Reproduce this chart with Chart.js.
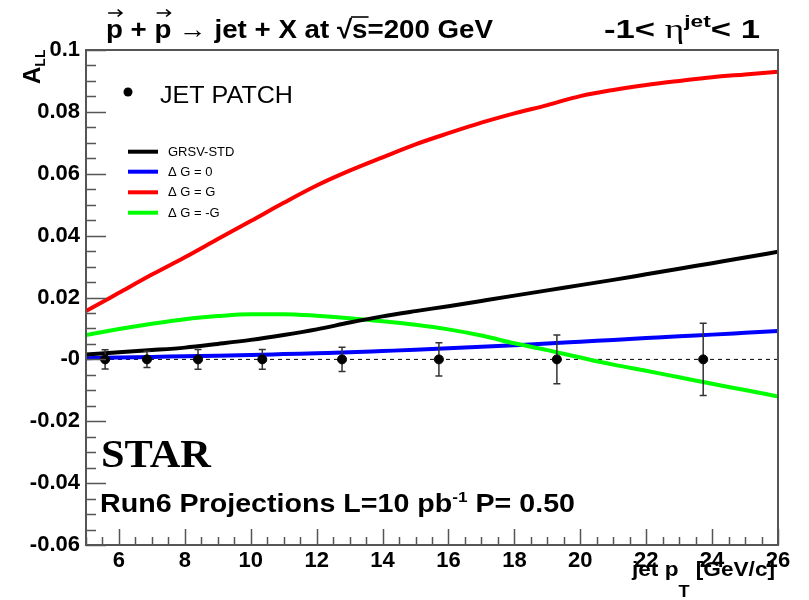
<!DOCTYPE html>
<html>
<head>
<meta charset="utf-8">
<script src="https://cdn.jsdelivr.net/npm/chart.js@4.4.0/dist/chart.umd.min.js"></script>
<style>
  html, body { margin: 0; padding: 0; background: #fff; }
  canvas { display: block; }
</style>
</head>
<body>
<canvas id="all-chart" width="809" height="600"></canvas>
<script>
// theory curves: A_LL vs jet pT
const curveX = [5, 6, 7, 8, 9, 10, 11, 12, 13, 14, 15, 16, 17, 18, 19, 20, 21, 22, 23, 24, 25, 26];
const grsvStd = [0.0016, 0.0023, 0.0030, 0.0038, 0.0050, 0.0063, 0.0079, 0.0097, 0.0119, 0.0139, 0.0156, 0.0172,
                 0.0189, 0.0206, 0.0223, 0.0240, 0.0257, 0.0275, 0.0293, 0.0311, 0.0329, 0.0348];
const dgZero = [0.0004, 0.0006, 0.0008, 0.0010, 0.0012, 0.0014, 0.0017, 0.0020, 0.0023, 0.0027, 0.0031, 0.0036,
                0.0041, 0.0046, 0.0051, 0.0057, 0.0063, 0.0069, 0.0075, 0.0080, 0.0086, 0.0092];
const dgG = [0.0156, 0.0215, 0.0274, 0.0330, 0.0389, 0.0447, 0.0506, 0.0562, 0.0610, 0.0653, 0.0695, 0.0731,
             0.0765, 0.0795, 0.0822, 0.0851, 0.0871, 0.0887, 0.0900, 0.0912, 0.0921, 0.0930];
const dgMinusG = [0.0079, 0.0098, 0.0115, 0.0130, 0.0140, 0.0146, 0.0146, 0.0141, 0.0133, 0.0123, 0.0112, 0.0097,
                  0.0077, 0.0052, 0.0030, 0.0006, -0.0017, -0.0037, -0.0058, -0.0079, -0.0099, -0.0120];

const curveNames = ['GRSV-STD', '\u0394 G = 0', '\u0394 G = G', '\u0394 G = -G'];
const curveColors = ['#000000', '#0000ff', '#ff0000', '#00ff00'];

// JET PATCH projected points
const ptX = [5.58, 6.85, 8.40, 10.35, 12.77, 15.71, 19.29, 23.73];
const ptY = [0, 0, 0, 0, 0, 0, 0, 0];
const ptErr = [0.0031, 0.0026, 0.0032, 0.0032, 0.0039, 0.0054, 0.0079, 0.0117];

const xTickVals = [6, 8, 10, 12, 14, 16, 18, 20, 22, 24, 26];
const xTickLabels = ['6', '8', '10', '12', '14', '16', '18', '20', '22', '24', '26'];
const yTickVals = [-0.06, -0.04, -0.02, 0, 0.02, 0.04, 0.06, 0.08, 0.1];
const yTickLabels = ['-0.06', '-0.04', '-0.02', '-0', '0.02', '0.04', '0.06', '0.08', '0.1'];

const SANS = '"Liberation Sans", Arial, Helvetica, sans-serif';
const SERIF = '"Liberation Serif", "Times New Roman", serif';
const fnt = (size, bold, fam) => `${bold ? 'bold ' : ''}${size}px ${fam || SANS}`;

// draw pieces [{t, size, dy, fam}] left to right, squeezed/stretched to a given width
function drawRun(ctx, pieces, x, y, width, bold, fam) {
    let nat = 0;
    pieces.forEach(p => { ctx.font = fnt(p.size, p.bold ?? bold, p.fam || fam); p.w = ctx.measureText(p.t).width; nat += p.w; });
    const sx = width ? width / nat : 1;
    ctx.save();
    ctx.translate(x, y);
    ctx.scale(sx, 1);
    let cx = 0;
    pieces.forEach(p => {
        ctx.font = fnt(p.size, p.bold ?? bold, p.fam || fam);
        ctx.fillText(p.t, cx, p.dy || 0);
        cx += p.w;
    });
    ctx.restore();
}

function drawTitle(ctx) {
    const txt = 'p + p \u2192 jet + X at \u221As=200 GeV';
    const size = 26, x0 = 106, base = 38;
    ctx.font = fnt(size, true);
    const sx = 387 / ctx.measureText(txt).width;
    ctx.save();
    ctx.translate(x0, base);
    ctx.scale(sx, 1);
    ctx.fillStyle = '#000';
    ctx.fillText(txt, 0, 0);
    ctx.strokeStyle = '#000';
    ctx.lineWidth = 1.6;
    const pw = ctx.measureText('p').width;
    ['', 'p + '].forEach(pre => {
        const ax = ctx.measureText(pre).width;
        const ay = -25;
        ctx.beginPath();
        ctx.moveTo(ax + 2, ay);
        ctx.lineTo(ax + pw - 1, ay);
        ctx.moveTo(ax + pw - 5, ay - 3.5);
        ctx.lineTo(ax + pw - 1, ay);
        ctx.lineTo(ax + pw - 5, ay + 3.5);
        ctx.stroke();
    });
    const s0 = ctx.measureText('p + p \u2192 jet + X at \u221A').width;
    const sw = ctx.measureText('s').width;
    ctx.beginPath();
    ctx.moveTo(s0 - 1, -21);
    ctx.lineTo(s0 + sw + 1, -21);
    ctx.stroke();
    ctx.restore();

    drawRun(ctx, [
        { t: '-1< ', size: 26 },
        { t: '\u03B7', size: 28, fam: SERIF, bold: false },
        { t: 'jet', size: 17, dy: -11 },
        { t: '< 1', size: 26 }
    ], 604, base, 156, true);
}

const rootDecor = {
    id: 'rootDecor',
    beforeDatasetDraw(chart, args) {
        if (args.index !== 4) return;
        const { ctx } = chart;
        const xs = chart.scales.x, ys = chart.scales.y;
        ctx.save();
        ctx.strokeStyle = '#333';
        ctx.lineWidth = 1.5;
        ptX.forEach((v, i) => {
            const px = xs.getPixelForValue(v);
            const top = ys.getPixelForValue(ptY[i] + ptErr[i]);
            const bot = ys.getPixelForValue(ptY[i] - ptErr[i]);
            ctx.beginPath();
            ctx.moveTo(px, top); ctx.lineTo(px, bot);
            ctx.moveTo(px - 3.5, top); ctx.lineTo(px + 3.5, top);
            ctx.moveTo(px - 3.5, bot); ctx.lineTo(px + 3.5, bot);
            ctx.stroke();
        });
        ctx.restore();
    },
    afterDraw(chart) {
        const { ctx, chartArea: a } = chart;
        const xs = chart.scales.x, ys = chart.scales.y;
        ctx.save();

        // inward ticks, ROOT style
        ctx.strokeStyle = '#555';
        ctx.lineWidth = 1.5;
        ctx.beginPath();
        for (let v = 5; v <= 26.001; v += 0.5) {
            const px = Math.round(xs.getPixelForValue(v)) + 0.5;
            const len = Math.abs(v / 2 - Math.round(v / 2)) < 1e-6 ? 16 : 8;
            ctx.moveTo(px, a.bottom); ctx.lineTo(px, a.bottom - len);
        }
        for (let k = 0; k <= 32; k++) {
            const v = -0.06 + k * 0.005;
            const py = Math.round(ys.getPixelForValue(v)) + 0.5;
            const len = k % 4 === 0 ? 20 : 10;
            ctx.moveTo(a.left, py); ctx.lineTo(a.left + len, py);
        }
        ctx.stroke();

        // frame
        ctx.lineWidth = 2;
        ctx.strokeRect(a.left, a.top, a.right - a.left, a.bottom - a.top);

        ctx.fillStyle = '#000';
        ctx.textBaseline = 'alphabetic';
        ctx.textAlign = 'left';
        drawTitle(ctx);

        // axis titles
        ctx.save();
        ctx.translate(40, 84);
        ctx.rotate(-Math.PI / 2);
        drawRun(ctx, [{ t: 'A', size: 24 }, { t: 'LL', size: 14, dy: 5 }], 0, 0, 0, true);
        ctx.restore();
        drawRun(ctx, [
            { t: 'jet p', size: 20 },
            { t: 'T', size: 16, dy: 21 },
            { t: ' [GeV/c]', size: 20 }
        ], 632, 576, 143, true);

        // JET PATCH entry
        ctx.beginPath();
        ctx.arc(128, 92, 4.5, 0, Math.PI * 2);
        ctx.fill();
        drawRun(ctx, [{ t: 'JET PATCH', size: 24 }], 160, 102.5, 133, false);

        // curve legend
        const legY = [151.7, 171.7, 192.3, 212.7];
        curveNames.forEach((name, i) => {
            ctx.strokeStyle = curveColors[i];
            ctx.lineWidth = 4;
            ctx.beginPath();
            ctx.moveTo(128, legY[i]); ctx.lineTo(158, legY[i]);
            ctx.stroke();
            ctx.textBaseline = 'middle';
            ctx.font = fnt(13, false);
            ctx.fillText(name, 168, legY[i] + 0.5);
        });
        ctx.textBaseline = 'alphabetic';

        // STAR and projection text
        drawRun(ctx, [{ t: 'STAR', size: 41 }], 101, 467, 110, true, SERIF);
        drawRun(ctx, [
            { t: 'Run6 Projections L=10 pb', size: 25 },
            { t: '-1', size: 15, dy: -10 },
            { t: ' P= 0.50', size: 25 }
        ], 100, 512, 475, true);

        ctx.restore();
    }
};

const curveSets = [grsvStd, dgZero, dgG, dgMinusG].map((arr, i) => ({
    type: 'line',
    label: curveNames[i],
    data: curveX.map((x, j) => ({ x, y: arr[j] })),
    borderColor: curveColors[i],
    borderWidth: 4,
    pointRadius: 0,
    cubicInterpolationMode: 'monotone',
    order: [2, 4, 1, 3][i]
}));

new Chart(document.getElementById('all-chart'), {
    type: 'scatter',
    data: {
        datasets: [
            ...curveSets,
            {
                type: 'scatter',
                label: 'JET PATCH',
                data: ptX.map((x, i) => ({ x, y: ptY[i] })),
                backgroundColor: '#000',
                borderColor: '#000',
                pointRadius: 4.5,
                order: 0
            },
            {
                type: 'line',
                label: 'zero',
                data: [{ x: 5, y: 0 }, { x: 26, y: 0 }],
                borderColor: '#000',
                borderWidth: 1,
                borderDash: [4, 4],
                pointRadius: 0,
                order: 9
            }
        ]
    },
    options: {
        responsive: false,
        animation: false,
        devicePixelRatio: 1,
        layout: { padding: { top: 50, right: 31, left: 0, bottom: 0 } },
        plugins: { legend: { display: false }, tooltip: { enabled: false } },
        scales: {
            x: {
                type: 'linear',
                min: 5,
                max: 26,
                grid: { display: false, drawTicks: false },
                border: { display: false },
                afterBuildTicks: s => { s.ticks = xTickVals.map(v => ({ value: v })); },
                afterFit: s => { s.height = 55; },
                ticks: {
                    color: '#000',
                    font: { family: SANS, size: 22, weight: 'bold' },
                    padding: 3,
                    maxRotation: 0,
                    autoSkip: false,
                    callback: (v, i) => xTickLabels[i]
                }
            },
            y: {
                type: 'linear',
                min: -0.06,
                max: 0.1,
                grid: { display: false, drawTicks: false },
                border: { display: false },
                afterBuildTicks: s => { s.ticks = yTickVals.map(v => ({ value: v })); },
                afterFit: s => { s.width = 86; },
                ticks: {
                    color: '#000',
                    font: { family: SANS, size: 22, weight: 'bold' },
                    padding: 6,
                    autoSkip: false,
                    callback: (v, i) => yTickLabels[i]
                }
            }
        }
    },
    plugins: [rootDecor]
});
</script>
</body>
</html>
